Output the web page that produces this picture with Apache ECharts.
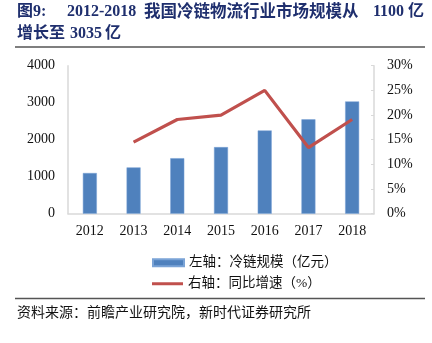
<!DOCTYPE html>
<html><head><meta charset="utf-8">
<script src="https://cdn.jsdelivr.net/npm/echarts@6/dist/echarts.min.js"></script>
<style>html,body{margin:0;padding:0;background:#fff}#c{width:432px;height:343px}</style>
</head><body><div id="c"></div>
<script>
const categories = ['2012','2013','2014','2015','2016','2017','2018'];
const scaleValues = [1100, 1250, 1500, 1800, 2250, 2550, 3035];
const growthValues = [null, 14.5, 19.1, 20.0, 25.0, 13.4, 19.1];
const leftTicks = [0, 1000, 2000, 3000, 4000];
const rightTicks = [0, 5, 10, 15, 20, 25, 30];
const seriesNames = ['左轴：冷链规模（亿元）', '右轴：同比增速（%）'];

const serif = '"Liberation Serif","Noto Sans CJK SC",serif';
const cjk = '"Liberation Serif","Noto Sans CJK SC",sans-serif';
const titleColor = '#1f2f6e';
const chart = echarts.init(document.getElementById('c'), null, {renderer:'canvas'});
chart.setOption({
  animation:false,
  backgroundColor:'#fff',
  grid:{left:68, right:58, top:65.7, bottom:129.3},
  legend:[
    {data:[{name:seriesNames[0], icon:'rect'}], left:147, top:251, itemWidth:31, itemHeight:7, itemGap:0,
     textStyle:{fontFamily:cjk, fontSize:13.5, color:'#111'}},
    {data:[{name:seriesNames[1], icon:'rect'}], left:147, top:272, itemWidth:31, itemHeight:3, itemGap:0,
     textStyle:{fontFamily:cjk, fontSize:13.5, color:'#111'}}
  ],
  xAxis:{type:'category', data:categories, boundaryGap:true,
    axisLine:{lineStyle:{color:'#d9d9d9', width:1.5}}, axisTick:{show:false},
    axisLabel:{fontFamily:serif, fontSize:14, color:'#111', margin:11}},
  yAxis:[
    {type:'value', min:leftTicks[0], max:leftTicks[leftTicks.length-1], interval:1000,
     axisLine:{show:true, lineStyle:{color:'#d9d9d9', width:1.5}}, axisTick:{show:false},
     splitLine:{show:false},
     axisLabel:{fontFamily:serif, fontSize:14, color:'#111', margin:13, formatter:v=>String(v)}},
    {type:'value', position:'right', min:rightTicks[0], max:rightTicks[rightTicks.length-1], interval:5,
     axisLine:{show:true, lineStyle:{color:'#d9d9d9', width:1.5}},
     axisTick:{show:true, inside:true, length:3, lineStyle:{color:'#d9d9d9'}},
     splitLine:{show:false},
     axisLabel:{fontFamily:serif, fontSize:14, color:'#111', margin:13, formatter:v=>v+'%'}}
  ],
  series:[
    {name:seriesNames[0], type:'bar', data:scaleValues, yAxisIndex:0, barWidth:14,
     itemStyle:{color:'#4f81bd', borderColor:'#7aa3d6', borderWidth:0.5}},
    {name:seriesNames[1], type:'line', data:growthValues, yAxisIndex:1, symbol:'none',
     lineStyle:{color:'#c0504d', width:3.2}, itemStyle:{color:'#c0504d'}}
  ],
  graphic:[
    {type:'text', left:17, top:4, style:{text:'图9:', font:'bold 16px '+cjk, fill:titleColor}},
    {type:'text', left:67, top:4, style:{text:'2012-2018', font:'bold 16px '+serif, fill:titleColor}},
    {type:'text', left:144, top:4, style:{text:'我国冷链物流行业市场规模从', font:'bold 16.5px '+cjk, fill:titleColor}},
    {type:'text', left:373, top:4, style:{text:'1100', font:'bold 16px '+serif, fill:titleColor}},
    {type:'text', left:408, top:4, style:{text:'亿', font:'bold 16px '+cjk, fill:titleColor}},
    {type:'text', left:17, top:26, style:{text:'增长至', font:'bold 16px '+cjk, fill:titleColor}},
    {type:'text', left:70, top:26, style:{text:'3035', font:'bold 16px '+serif, fill:titleColor}},
    {type:'text', left:105, top:26, style:{text:'亿', font:'bold 16px '+cjk, fill:titleColor}},
    {type:'line', shape:{x1:15, y1:47, x2:425, y2:47}, style:{stroke:'#555', lineWidth:1.5}},
    {type:'line', shape:{x1:15, y1:298.5, x2:425, y2:298.5}, style:{stroke:'#555', lineWidth:1.5}},
    {type:'text', left:17, top:306, style:{text:'资料来源：前瞻产业研究院，新时代证券研究所', font:'14px '+cjk, fill:'#111'}}
  ]
});
</script></body></html>
